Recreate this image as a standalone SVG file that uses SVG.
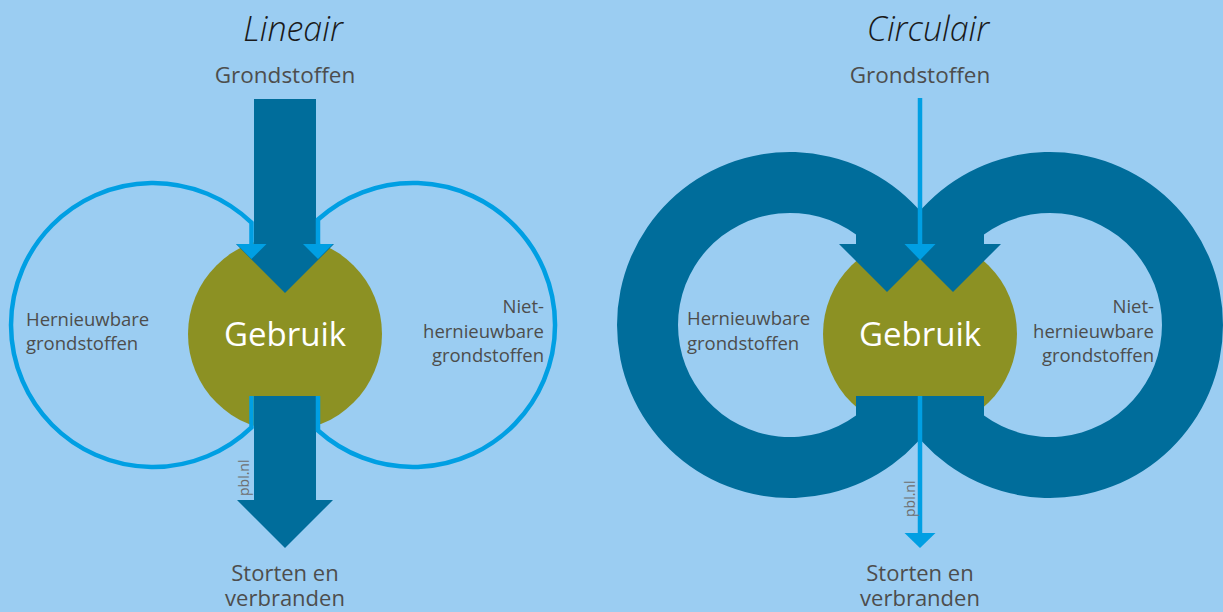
<svg xmlns="http://www.w3.org/2000/svg" width="1223" height="612" viewBox="0 0 1223 612">
<style>
.bg{fill:#9bcdf2}
.olive{fill:#8c9123}
.dark{fill:#006d9b}
.lite{fill:none;stroke:#009fe3;stroke-width:4.5}
.liteF{fill:#009fe3}
text{font-family:"Open Sans","Noto Sans","Liberation Sans",sans-serif}
.title{font-size:34px;font-style:italic;font-weight:300;fill:#1a1a1a;text-anchor:middle}
.lbl{font-size:22.5px;fill:#4d4d4d;text-anchor:middle}
.end{font-size:22px;fill:#4d4d4d;text-anchor:middle}
.geb{font-size:33px;fill:#ffffff;text-anchor:middle}
.side{font-size:18.5px;fill:#4d4d4d}
.pbl{font-size:14px;fill:#6e6e6e}
</style>
<rect class="bg" x="0" y="0" width="1223" height="612"/>

<g id="lineair">
  <text class="title" x="293" y="41">Lineair</text>
  <text class="lbl" x="285" y="83">Grondstoffen</text>
  <g id="gebruik-l">
    <circle class="olive" cx="285" cy="334" r="97"/>
    <text class="geb" x="285" y="346">Gebruik</text>
  </g>
  <g id="arrows-l">
    <polygon class="dark" points="254,99 316,99 316,244 334,244 285,293 236,244 254,244"/>
    <polygon class="dark" points="254,396 316,396 316,500 333,500 285,548 237,500 254,500"/>
  </g>
  <g id="loop-hernieuwbaar-l">
    <path class="lite" d="M251.5 244 L251.5 222.7 A142 142 0 1 0 251.5 427.3 L251.5 396"/>
    <polygon class="liteF" points="236.5,244 266.5,244 251.5,259"/>
    <text class="side" x="26" y="326">Hernieuwbare</text>
    <text class="side" x="26" y="350">grondstoffen</text>
  </g>
  <g id="loop-niet-l">
    <path class="lite" d="M318 244 L318 219.5 A142 142 0 1 1 318 430.5 L318 396"/>
    <polygon class="liteF" points="303,244 333,244 318,259"/>
    <text class="side" x="544" y="313" text-anchor="end">Niet-</text>
    <text class="side" x="544" y="338" text-anchor="end">hernieuwbare</text>
    <text class="side" x="544" y="362" text-anchor="end">grondstoffen</text>
  </g>
  <text class="pbl" transform="translate(249,496) rotate(-90)">pbl.nl</text>
  <text class="end" x="285" y="581">Storten en</text>
  <text class="end" x="285" y="606">verbranden</text>
</g>

<g id="circulair">
  <text class="title" x="928" y="41">Circulair</text>
  <text class="lbl" x="920" y="83">Grondstoffen</text>
  <g id="gebruik-r">
    <circle class="olive" cx="920" cy="334" r="97"/>
    <text class="geb" x="920" y="346">Gebruik</text>
  </g>
  <g id="ring-hernieuwbaar">
    <path class="dark" d="M918 208.6 A173 173 0 1 0 918 441.4 L918 396 L856 396 L856 415.5 A112 112 0 1 1 856 234.5 L856 244 L839 244 L887 292 L935 244 L918 244 Z"/>
    <text class="side" x="687" y="325">Hernieuwbare</text>
    <text class="side" x="687" y="350">grondstoffen</text>
  </g>
  <g id="ring-niet">
    <path class="dark" d="M922 208.6 A173 173 0 1 1 922 441.4 L922 396 L984 396 L984 415.5 A112 112 0 1 0 984 234.5 L984 244 L1001 244 L953 292 L905 244 L922 244 Z"/>
    <text class="side" x="1154" y="313" text-anchor="end">Niet-</text>
    <text class="side" x="1154" y="338" text-anchor="end">hernieuwbare</text>
    <text class="side" x="1154" y="362" text-anchor="end">grondstoffen</text>
  </g>
  <g id="connectors-r">
    <line class="lite" x1="920" y1="98" x2="920" y2="245"/>
    <polygon class="liteF" points="904.5,244 935.5,244 920,260"/>
    <line class="lite" x1="920" y1="396" x2="920" y2="534"/>
    <polygon class="liteF" points="904.5,533 935.5,533 920,548"/>
  </g>
  <text class="pbl" transform="translate(915,517) rotate(-90)">pbl.nl</text>
  <text class="end" x="920" y="581">Storten en</text>
  <text class="end" x="920" y="606">verbranden</text>
</g>
</svg>
